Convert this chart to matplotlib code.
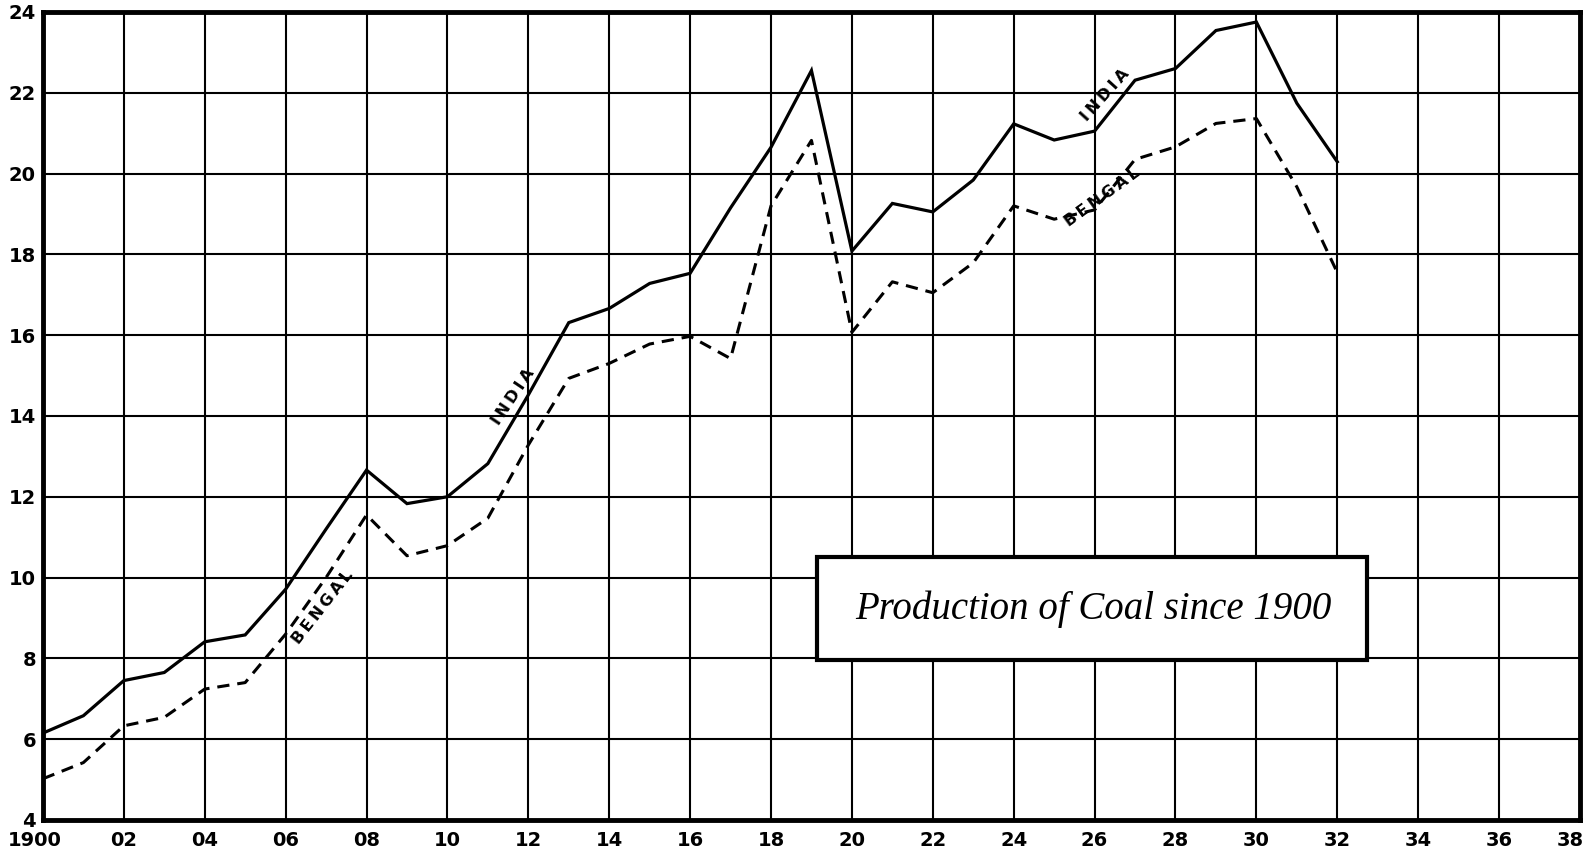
import matplotlib
matplotlib.use("Agg")
import matplotlib.pyplot as plt
import matplotlib.transforms as mtransforms
from matplotlib.patches import Rectangle

# coal production
years = list(range(1900, 1933))
india = [6.15, 6.58, 7.45, 7.65, 8.41, 8.58, 9.71, 11.2, 12.66, 11.83,
         12.0, 12.82, 14.52, 16.31, 16.66, 17.28, 17.53, 19.15, 20.65, 22.55,
         18.08, 19.26, 19.05, 19.84, 21.23, 20.83, 21.05, 22.31, 22.6, 23.54,
         23.75, 21.74, 20.29]
bengal = [5.02, 5.42, 6.33, 6.54, 7.24, 7.4, 8.6, 10.0, 11.55, 10.54,
          10.79, 11.47, 13.28, 14.93, 15.3, 15.78, 15.97, 15.42, 19.2, 20.82,
          16.07, 17.32, 17.05, 17.79, 19.2, 18.87, 19.1, 20.35, 20.66, 21.24,
          21.36, 19.67, 17.55]

x_ticks = list(range(1900, 1939, 2))
x_labels = ["1900"] + [f"{y % 100:02d}" for y in x_ticks[1:]]
y_ticks = list(range(4, 25, 2))
title = "Production of Coal since 1900"

fig = plt.figure(figsize=(15.9, 8.52), dpi=100)
ax = fig.add_axes([0.027, 0.0376, 0.9667, 0.9484])
ax.set_xlim(1900, 1938)
ax.set_ylim(4, 24)

# grid drawn by hand so it sits under the title box
for xv in x_ticks[1:-1]:
    ax.axvline(xv, color="k", lw=1.5, zorder=1)
for yv in y_ticks[1:-1]:
    ax.axhline(yv, color="k", lw=1.5, zorder=1)

ax.plot(years, india, color="k", lw=2.3, zorder=4, solid_joinstyle="miter")
ax.plot(years, bengal, color="k", lw=2.2, ls=(0, (4, 2.6)), zorder=4)

# series labels along the lines (thin spaces to mimic the wide lettering)
sp = "\u2009"
lab = dict(fontsize=11.5, fontweight="bold", ha="center", va="center",
           rotation_mode="anchor", zorder=6)
ax.text(1911.62, 14.47, sp.join("INDIA"), rotation=56, **lab)
ax.text(1906.92, 9.27, sp.join("BENGAL"), rotation=52, **lab)
ax.text(1926.25, 21.95, sp.join("INDIA"), rotation=48, **lab)
ax.text(1926.18, 19.42, sp.join("BENGAL"), rotation=36, **lab)

# title box
ax.add_patch(Rectangle((1919.13, 7.97), 13.6, 2.53, facecolor="white",
                       edgecolor="k", lw=3, zorder=3))
ax.text(1925.98, 9.21, title, fontsize=28, style="italic",
        family=["Liberation Serif", "DejaVu Serif"], ha="center", va="center",
        zorder=5)

ax.set_xticks(x_ticks, x_labels)
ax.set_yticks(y_ticks)
ax.tick_params(length=0, labelsize=14)
ax.tick_params(axis="x", pad=8)
ax.tick_params(axis="y", pad=5)
for t in ax.get_xticklabels() + ax.get_yticklabels():
    t.set_fontweight("heavy")
# end labels nudged inward so they stay on the page
xl = ax.get_xticklabels()
for t, dx in ((xl[0], -0.08), (xl[-1], -0.1)):
    t.set_transform(t.get_transform() +
                    mtransforms.ScaledTranslation(dx, 0, fig.dpi_scale_trans))
for s in ax.spines.values():
    s.set_linewidth(3.5)
    s.set_zorder(5)

fig.savefig("out.png", dpi=100)
